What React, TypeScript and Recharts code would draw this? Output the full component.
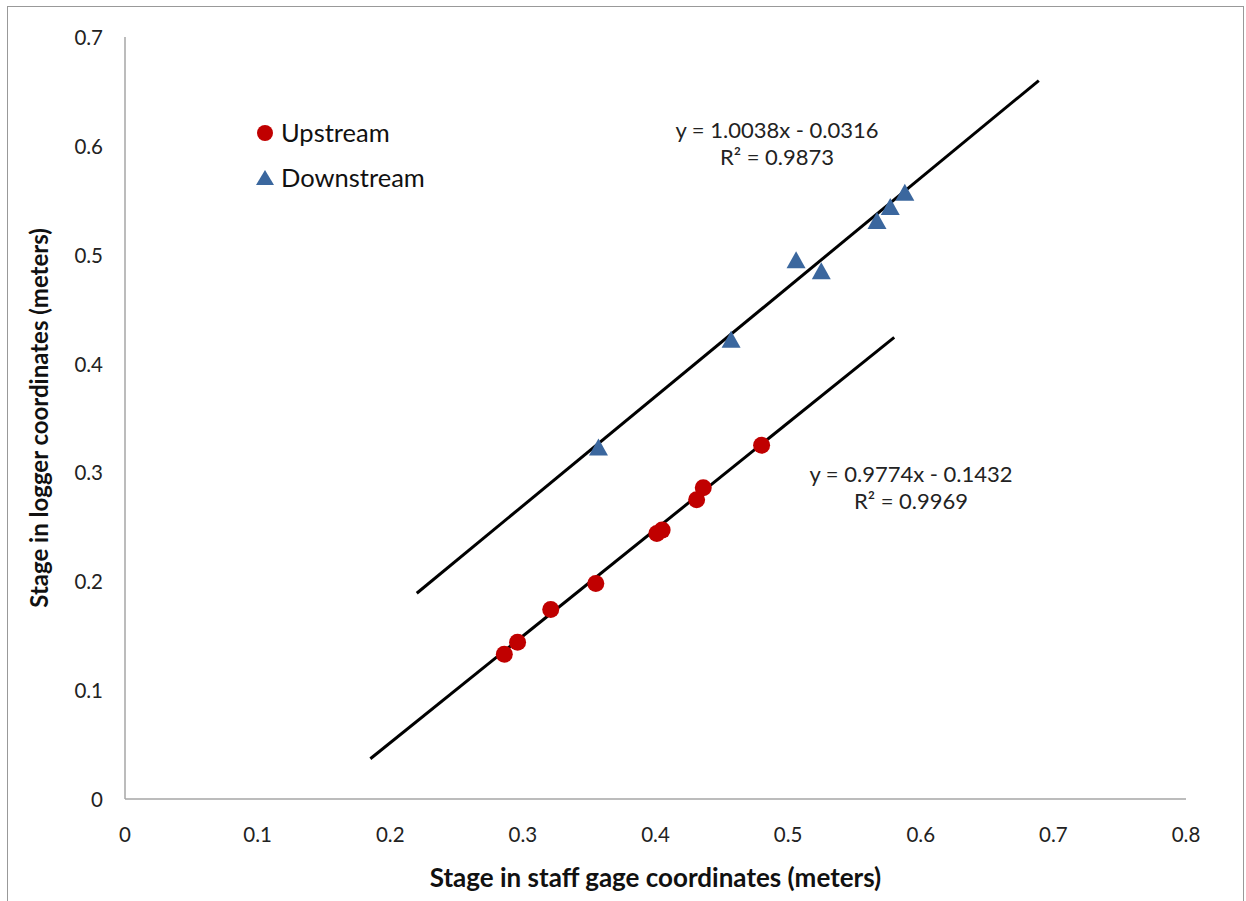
import React from 'react';
import { ScatterChart, Scatter, XAxis, YAxis } from 'recharts';

const upstream = [
  { x: 0.286, y: 0.133 },
  { x: 0.296, y: 0.144 },
  { x: 0.321, y: 0.174 },
  { x: 0.355, y: 0.198 },
  { x: 0.401, y: 0.244 },
  { x: 0.405, y: 0.247 },
  { x: 0.431, y: 0.275 },
  { x: 0.436, y: 0.286 },
  { x: 0.480, y: 0.325 },
];

const downstream = [
  { x: 0.357, y: 0.322 },
  { x: 0.457, y: 0.421 },
  { x: 0.506, y: 0.494 },
  { x: 0.525, y: 0.484 },
  { x: 0.567, y: 0.530 },
  { x: 0.577, y: 0.543 },
  { x: 0.588, y: 0.556 },
];

// trendline end points as drawn
const upstreamTrend = [
  { x: 0.185, y: 0.037 },
  { x: 0.580, y: 0.424 },
];
const downstreamTrend = [
  { x: 0.220, y: 0.189 },
  { x: 0.689, y: 0.660 },
];

const xTicks = [0, 0.1, 0.2, 0.3, 0.4, 0.5, 0.6, 0.7, 0.8];
const yTicks = [0, 0.1, 0.2, 0.3, 0.4, 0.5, 0.6, 0.7];

const FONT = 'Lato, "Open Sans", sans-serif';
const RED = '#c00000';
const BLUE = '#3b679e';

const Dot = (p: any) => <circle cx={p.cx} cy={p.cy} r={8.5} fill={RED} />;
const Tri = (p: any) => (
  <polygon
    points={`${p.cx},${p.cy - 10} ${p.cx + 9.5},${p.cy + 7} ${p.cx - 9.5},${p.cy + 7}`}
    fill={BLUE}
  />
);
const NoShape = () => <g />;

const YTick = (p: any) => (
  <text x={103} y={p.y} textAnchor="end" dominantBaseline="central" fontSize={20.5} fill="#222" fontFamily={FONT}>
    {p.payload.value}
  </text>
);
const XTick = (p: any) => (
  <text x={p.x} y={p.y + 27} textAnchor="middle" dominantBaseline="central" fontSize={20.5} fill="#222" fontFamily={FONT}>
    {p.payload.value}
  </text>
);

const eqStyle: React.CSSProperties = {
  position: 'absolute',
  fontFamily: FONT,
  fontSize: 22,
  color: '#222',
  textAlign: 'center',
  lineHeight: '27px',
  transform: 'translateX(-50%)',
  whiteSpace: 'nowrap',
};

export default function App() {
  return (
    <div style={{ position: 'absolute', left: 0, top: 0, width: 1246, height: 901, background: '#fff', overflow: 'hidden' }}>
      <div style={{ position: 'absolute', left: 7, top: 6, width: 1235, height: 900, borderLeft: '1.5px solid #999', borderTop: '1.5px solid #999', borderRight: '1.5px solid #999' }} />
      <ScatterChart width={1246} height={901} margin={{ top: 37, right: 60, left: 0, bottom: 0 }}>
        <XAxis
          type="number"
          dataKey="x"
          domain={[0, 0.8]}
          ticks={xTicks}
          tick={XTick}
          tickLine={false}
          axisLine={{ stroke: '#a6a6a6', strokeWidth: 1.5 }}
          height={102}
          label={{ value: 'Stage in staff gage coordinates (meters)', position: 'insideBottom', offset: 14, style: { fontFamily: FONT, fontSize: 26, fontWeight: 700, fill: '#111' } }}
        />
        <YAxis
          type="number"
          dataKey="y"
          domain={[0, 0.7]}
          ticks={yTicks}
          tick={YTick}
          tickLine={false}
          axisLine={{ stroke: '#a6a6a6', strokeWidth: 1.5 }}
          width={125}
          label={{ value: 'Stage in logger coordinates (meters)', angle: -90, position: 'insideLeft', offset: 39, style: { textAnchor: 'middle', fontFamily: FONT, fontSize: 24, fontWeight: 700, fill: '#111' } }}
        />
        <Scatter data={upstreamTrend} line={{ stroke: '#000', strokeWidth: 3 }} shape={NoShape} legendType="none" isAnimationActive={false} />
        <Scatter data={downstreamTrend} line={{ stroke: '#000', strokeWidth: 3 }} shape={NoShape} legendType="none" isAnimationActive={false} />
        <Scatter name="Upstream" data={upstream} shape={Dot} isAnimationActive={false} />
        <Scatter name="Downstream" data={downstream} shape={Tri} isAnimationActive={false} />
      </ScatterChart>
      <div style={{ position: 'absolute', left: 255, top: 110, fontFamily: FONT, fontSize: 25.5, color: '#111', lineHeight: '45px' }}>
        <div style={{ display: 'flex', alignItems: 'center' }}>
          <svg width={24} height={20}><circle cx={10} cy={10} r={8} fill={RED} /></svg>
          <span style={{ marginLeft: 2 }}>Upstream</span>
        </div>
        <div style={{ display: 'flex', alignItems: 'center' }}>
          <svg width={24} height={20}><polygon points="10,2 19,17 1,17" fill={BLUE} /></svg>
          <span style={{ marginLeft: 2 }}>Downstream</span>
        </div>
      </div>
      <div style={{ ...eqStyle, left: 777, top: 116 }}>
        y = 1.0038x - 0.0316<br />R² = 0.9873
      </div>
      <div style={{ ...eqStyle, left: 911, top: 460 }}>
        y = 0.9774x - 0.1432<br />R² = 0.9969
      </div>
    </div>
  );
}
